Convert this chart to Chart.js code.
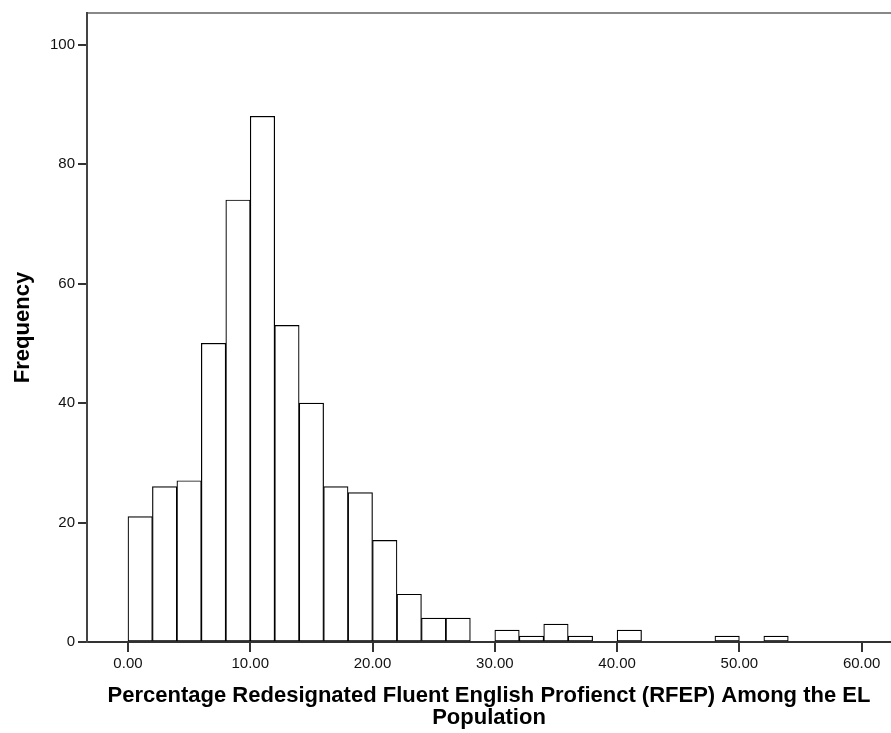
<!DOCTYPE html>
<html>
<head>
<meta charset="utf-8">
<script src="https://cdn.jsdelivr.net/npm/chart.js@4"></script>
<style>
  html, body { margin: 0; padding: 0; background: #fff; }
  #wrap { width: 891px; height: 733px; }
</style>
</head>
<body>
<div id="wrap"><canvas id="histChart" width="891" height="733"></canvas></div>
<script>
// histogram bins (width 2) and their frequencies
const binStarts = [0, 2, 4, 6, 8, 10, 12, 14, 16, 18, 20, 22, 24, 26, 28, 30, 32, 34, 36, 38, 40, 42, 44, 46, 48, 50, 52];
const counts    = [21, 26, 27, 50, 74, 88, 53, 40, 26, 25, 17, 8, 4, 4, 0, 2, 1, 3, 1, 0, 2, 0, 0, 0, 1, 0, 1];
const binWidth = 2;

const xTicks = [0, 10, 20, 30, 40, 50, 60];
const yTicks = [0, 20, 40, 60, 80, 100];

const xTitle = ["Percentage Redesignated Fluent English Profienct (RFEP) Among the EL", "Population"];
const yTitle = "Frequency";

const points = binStarts.map((s, i) => ({ x: s + binWidth / 2, y: counts[i] }));

const tickFont = { family: "'Liberation Sans', Arial, sans-serif", size: 15 };
const titleFont = { family: "'Liberation Sans', Arial, sans-serif", size: 22, weight: 'bold', lineHeight: 1.0 };

const ctx = document.getElementById('histChart').getContext('2d');
const histChart = new Chart(ctx, {
  type: 'bar',
  data: {
    datasets: [{
      data: points,
      backgroundColor: '#ffffff',
      borderColor: '#000000',
      borderWidth: 1.2,
      borderSkipped: false,
      barPercentage: 1,
      categoryPercentage: 1
    }]
  },
  options: {
    responsive: false,
    animation: false,
    layout: { padding: 0 },
    plugins: {
      legend: { display: false },
      tooltip: { enabled: false }
    },
    scales: {
      x: {
        type: 'linear',
        position: 'bottom',
        offset: false,
        min: -3.35,
        max: 62.4,
        afterBuildTicks: (axis) => { axis.ticks = xTicks.map(v => ({ value: v })); },
        afterFit: (axis) => { axis.height = 91; },
        ticks: {
          color: '#111',
          font: tickFont,
          padding: 3,
          maxRotation: 0,
          callback: (v) => v.toFixed(2)
        },
        grid: {
          offset: false,
          drawOnChartArea: false,
          drawTicks: true,
          tickLength: 10,
          lineWidth: 2,
          color: '#333'
        },
        border: { color: '#333', width: 2 },
        title: {
          display: true,
          text: xTitle,
          color: '#000',
          font: titleFont,
          padding: { top: 0, bottom: 4 }
        }
      },
      xTop: {
        type: 'linear',
        position: 'top',
        offset: false,
        min: -3.35,
        max: 62.4,
        afterFit: (axis) => { axis.height = 13; },
        ticks: { display: false },
        grid: { display: false },
        border: { color: '#888', width: 2 }
      },
      y: {
        min: 0,
        max: 105.3,
        afterBuildTicks: (axis) => { axis.ticks = yTicks.map(v => ({ value: v })); },
        afterFit: (axis) => { axis.width = 87; },
        ticks: {
          color: '#111',
          font: tickFont,
          padding: 3
        },
        grid: {
          drawOnChartArea: false,
          drawTicks: true,
          tickLength: 9,
          lineWidth: 2,
          color: '#333'
        },
        border: { color: '#444', width: 2 },
        title: {
          display: true,
          text: yTitle,
          color: '#000',
          font: titleFont,
          padding: { top: 12, bottom: 0 }
        }
      }
    }
  }
});
</script>
</body>
</html>
